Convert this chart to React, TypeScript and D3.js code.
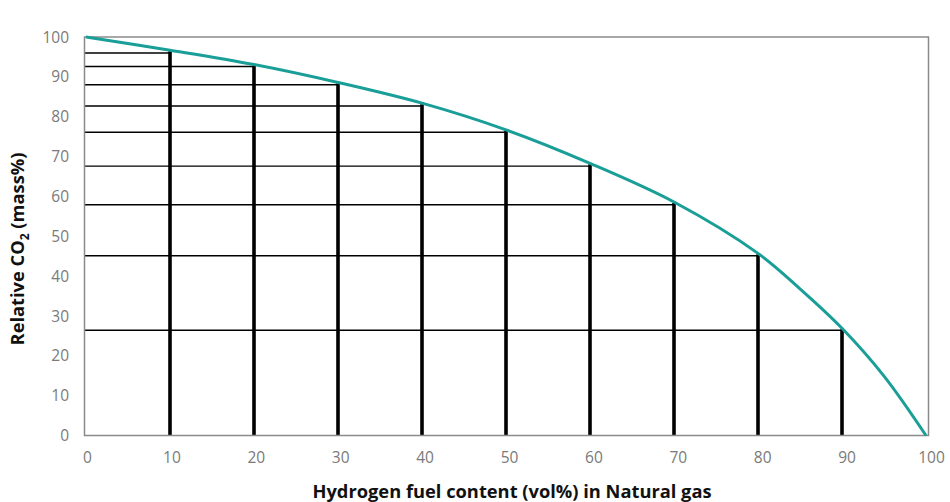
import React from "react";
import * as d3 from "d3";

const h2Content = [10, 20, 30, 40, 50, 60, 70, 80, 90];
const relCO2 = [96.0, 92.6, 88.0, 82.7, 76.1, 67.6, 57.9, 45.1, 26.4];
const curveX = [0, 10, 20, 30, 40, 50, 60, 70, 80, 85, 90, 95, 100];
const curveY = [100, 96.7, 93.1, 88.6, 83.4, 76.7, 68.3, 58.6, 45.7, 36.8, 26.9, 14.9, 0];
const xTicks = [0, 10, 20, 30, 40, 50, 60, 70, 80, 90, 100];
const yTicks = [0, 10, 20, 30, 40, 50, 60, 70, 80, 90, 100];

const W = 950;
const H = 502;
const left = 84.5;
const right = 928.5;
const top = 37;
const bottom = 435.5;

export default function App() {
  const x = d3.scaleLinear().domain([0, 100]).range([86, 926]);
  const xt = d3.scaleLinear().domain([0, 100]).range([left, right]);
  const y = d3.scaleLinear().domain([0, 100]).range([bottom, top]);
  const pts: [number, number][] = curveX.map((v, i) => [v, curveY[i]]);
  const line = d3
    .line<[number, number]>()
    .x((d) => x(d[0]))
    .y((d) => y(d[1]))
    .curve(d3.curveCatmullRom.alpha(0.5));

  const font = "'Open Sans', 'Noto Sans', sans-serif";
  return (
    <svg
      width={W}
      height={H}
      style={{ position: "absolute", left: 0, top: 0, background: "#fff" }}
    >
      {h2Content.map((v, i) => (
        <line
          key={"h" + i}
          x1={left}
          x2={x(v)}
          y1={y(relCO2[i])}
          y2={y(relCO2[i])}
          stroke="#000"
          strokeWidth={1.4}
        />
      ))}
      {h2Content.map((v, i) => (
        <line
          key={"v" + i}
          x1={x(v)}
          x2={x(v)}
          y1={y(0)}
          y2={y(curveY[curveX.indexOf(v)]) + 1}
          stroke="#000"
          strokeWidth={3.6}
        />
      ))}
      <rect
        x={left}
        y={top}
        width={right - left}
        height={bottom - top}
        fill="none"
        stroke="#8a8a8a"
        strokeWidth={1.5}
      />
      <path d={line(pts) || ""} fill="none" stroke="#1a9e98" strokeWidth={3} />
      {yTicks.map((t) => (
        <text
          key={"yt" + t}
          x={69}
          y={y(t)}
          dy="0.36em"
          textAnchor="end"
          fontFamily={font}
          fontSize={15.5}
          fill="#7a7a7a"
        >
          {t}
        </text>
      ))}
      {xTicks.map((t) => (
        <text
          key={"xt" + t}
          x={xt(t) + 3}
          y={457}
          dy="0.36em"
          textAnchor="middle"
          fontFamily={font}
          fontSize={15.5}
          fill="#7a7a7a"
        >
          {t}
        </text>
      ))}
      <text
        x={512}
        y={491}
        dy="0.36em"
        textAnchor="middle"
        fontFamily={font}
        fontSize={18.3}
        fontWeight="bold"
        fill="#111"
      >
        Hydrogen fuel content (vol%) in Natural gas
      </text>
      <text
        transform={`translate(17,249) rotate(-90)`}
        dy="0.36em"
        textAnchor="middle"
        fontFamily={font}
        fontSize={18.3}
        fontWeight="bold"
        fill="#111"
      >
        Relative CO
        <tspan fontSize={12} dy="5">2</tspan>
        <tspan dy="-5"> (mass%)</tspan>
      </text>
    </svg>
  );
}
